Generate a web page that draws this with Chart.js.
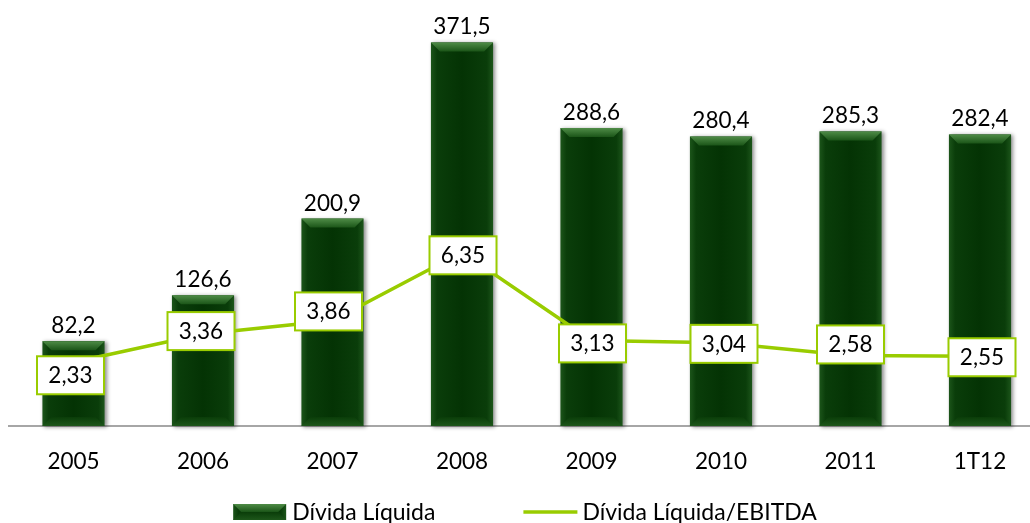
<!DOCTYPE html>
<html><head><meta charset="utf-8">
<script src="https://cdn.jsdelivr.net/npm/chart.js@4"></script>
<style>
html,body{margin:0;padding:0;background:#fff;overflow:hidden;width:1030px;height:523px;}
#wrap{position:absolute;left:0;top:0;width:1060px;height:523px;}
</style></head><body><div id="wrap"><canvas id="c"></canvas></div>
<script>
const categories = ['2005','2006','2007','2008','2009','2010','2011','1T12'];
const dividaLiquida = [82.2, 126.6, 200.9, 371.5, 288.6, 280.4, 285.3, 282.4];
const dividaEbitda = [2.33, 3.36, 3.86, 6.35, 3.13, 3.04, 2.58, 2.55];
const barSeriesName = 'Dívida Líquida';
const lineSeriesName = 'Dívida Líquida/EBITDA';
// small manual nudges of the ratio label boxes (pixels), as in the original
const ratioLabelNudge = [[-3,13],[-2,-3],[-4,-9],[1,3],[1,3],[3,1],[0,-11],[2,1]];

const FONT = 'Lato';
const LIME = '#99cc00';
const fmt = (v, d) => v.toFixed(d).replace('.', ',');

function drawBevelBar(ctx, left, top, right, bottom, withShadow) {
  const w = right - left, h = bottom - top;
  ctx.save();
  if (withShadow) {
    ctx.shadowColor = 'rgba(0,0,0,0.45)';
    ctx.shadowBlur = 4;
    ctx.shadowOffsetX = 2;
    ctx.shadowOffsetY = 1;
  }
  const g = ctx.createLinearGradient(left, 0, right, 0);
  g.addColorStop(0, '#1c551a');
  g.addColorStop(0.1, '#0a3d0a');
  g.addColorStop(0.5, '#043304');
  g.addColorStop(0.9, '#0a3d0a');
  g.addColorStop(1, '#1c551a');
  ctx.fillStyle = g;
  ctx.fillRect(left, top, w, h);
  ctx.restore();
  const b = Math.min(9, h / 2, w / 4);
  ctx.save();
  let tg = ctx.createLinearGradient(0, top, 0, top + b);
  tg.addColorStop(0, '#4f8c47');
  tg.addColorStop(1, '#1b5518');
  ctx.fillStyle = tg;
  ctx.beginPath();
  ctx.moveTo(left, top); ctx.lineTo(right, top);
  ctx.lineTo(right - b, top + b); ctx.lineTo(left + b, top + b);
  ctx.closePath(); ctx.fill();
  let bg = ctx.createLinearGradient(0, bottom - b, 0, bottom);
  bg.addColorStop(0, '#0a3d09');
  bg.addColorStop(1, '#1d561a');
  ctx.fillStyle = bg;
  ctx.beginPath();
  ctx.moveTo(left, bottom); ctx.lineTo(right, bottom);
  ctx.lineTo(right - b, bottom - b); ctx.lineTo(left + b, bottom - b);
  ctx.closePath(); ctx.fill();
  ctx.restore();
}

const barStyle = {
  id: 'barStyle',
  afterDatasetDraw(chart, args) {
    if (args.index !== 0) return;
    const ctx = chart.ctx;
    args.meta.data.forEach((el, i) => {
      const p = el.getProps(['x', 'y', 'base', 'width'], true);
      drawBevelBar(ctx, p.x - p.width / 2, p.y, p.x + p.width / 2, p.base, true);
      ctx.save();
      ctx.font = `22.5px ${FONT}`;
      ctx.fillStyle = '#000';
      ctx.textAlign = 'center';
      ctx.textBaseline = 'alphabetic';
      ctx.fillText(fmt(dividaLiquida[i], 1), p.x, p.y - 8);
      ctx.restore();
    });
  },
  afterDatasetsDraw(chart) {
    const meta = chart.getDatasetMeta(1);
    const ctx = chart.ctx;
    meta.data.forEach((pt, i) => {
      const cx = pt.x + ratioLabelNudge[i][0];
      const cy = pt.y + ratioLabelNudge[i][1];
      const bw = 67, bh = 38;
      ctx.save();
      ctx.fillStyle = '#fff';
      ctx.fillRect(cx - bw / 2, cy - bh / 2, bw, bh);
      ctx.strokeStyle = LIME;
      ctx.lineWidth = 2;
      ctx.strokeRect(cx - bw / 2, cy - bh / 2, bw, bh);
      ctx.font = `22.5px ${FONT}`;
      ctx.fillStyle = '#000';
      ctx.textAlign = 'center';
      ctx.textBaseline = 'alphabetic';
      ctx.fillText(fmt(dividaEbitda[i], 2), cx, cy + 8);
      ctx.restore();
    });
    // category labels under the axis, placed by the x scale
    const xs = chart.scales.x;
    ctx.save();
    ctx.font = `22.5px ${FONT}`;
    ctx.fillStyle = '#000';
    ctx.textAlign = 'center';
    ctx.textBaseline = 'alphabetic';
    categories.forEach((c, i) => {
      ctx.fillText(c, xs.getPixelForValue(i), xs.top + 43);
    });
    ctx.restore();
  },
  afterDraw(chart) {
    const ctx = chart.ctx;
    ctx.save();
    ctx.font = `23px ${FONT}`;
    const t1 = ctx.measureText(barSeriesName).width;
    const t2 = ctx.measureText(lineSeriesName).width;
    const boxW = 53, lineW = 54, gap1 = 6, gapMid = 88, gap2 = 5;
    const total = boxW + gap1 + t1 + gapMid + lineW + gap2 + t2;
    const center = 525;
    let x = center - total / 2;
    const yc = 512;
    drawBevelBar(ctx, x, yc - 8, x + boxW, yc + 8, false);
    x += boxW + gap1;
    ctx.fillStyle = '#000';
    ctx.textAlign = 'left';
    ctx.textBaseline = 'middle';
    ctx.fillText(barSeriesName, x, yc + 1);
    x += t1 + gapMid;
    ctx.strokeStyle = LIME;
    ctx.lineWidth = 3.5;
    ctx.beginPath(); ctx.moveTo(x, yc); ctx.lineTo(x + lineW, yc); ctx.stroke();
    x += lineW + gap2;
    ctx.fillText(lineSeriesName, x, yc + 1);
    ctx.restore();
  }
};

function build() {
  new Chart(document.getElementById('c'), {
    data: {
      labels: categories,
      datasets: [
        { type: 'bar', label: barSeriesName, data: dividaLiquida, yAxisID: 'y',
          backgroundColor: 'rgba(0,0,0,0)', borderWidth: 0,
          barPercentage: 0.48, categoryPercentage: 1, order: 1 },
        { type: 'line', label: lineSeriesName, data: dividaEbitda, yAxisID: 'y1',
          borderColor: LIME, borderWidth: 3.5, pointRadius: 0, tension: 0, fill: false, order: 0 }
      ]
    },
    options: {
      responsive: true, maintainAspectRatio: false, animation: false,
      layout: { padding: { left: 8.75, right: 15.25, top: 13, bottom: 0 } },
      plugins: { legend: { display: false }, tooltip: { enabled: false } },
      scales: {
        x: {
          offset: true,
          grid: { display: false, drawTicks: false },
          border: { display: true, color: '#a6a6a6', width: 2 },
          ticks: { display: false },
          afterFit(scale) { scale.height = 97; }
        },
        y: { display: false, min: 0, max: 400 },
        y1: { display: false, min: 0, max: 15.1, position: 'right' }
      }
    },
    plugins: [barStyle]
  });
}
document.fonts.load(`22px ${FONT}`).then(build, build);
</script>
</body></html>
